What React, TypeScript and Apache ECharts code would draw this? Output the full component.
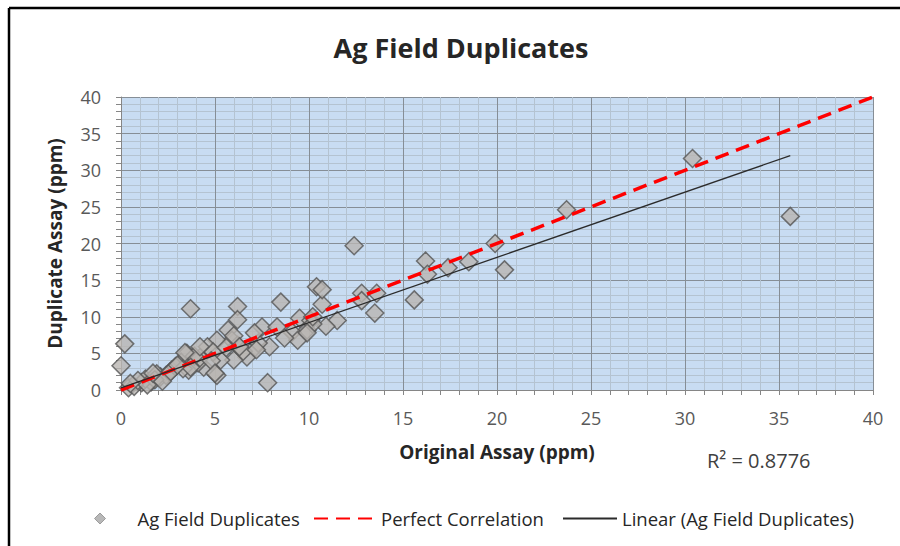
import React, { useEffect, useRef } from "react";
import * as echarts from "echarts";

const originalAssay = [
  35.6, 30.4, 23.7, 19.9, 20.4, 18.5, 17.4, 16.2, 16.3, 15.6,
  13.5, 13.6, 12.8, 12.8, 12.4, 11.5, 10.9, 10.7, 10.4, 10.7,
  9.9, 9.5, 9.1, 9.4, 8.7, 8.5, 10.1, 7.8, 6.2, 3.7,
  0.2, 0.0, 7.5, 8.3, 7.9, 7.1, 6.2, 5.7, 5.9, 5.1,
  6.2, 6.7, 6.0, 5.3, 5.1, 4.6, 4.4, 3.5, 3.6, 4.1,
  4.9, 3.2, 2.7, 2.1, 1.6, 1.1, 0.4, 0.7, 1.3, 1.9,
  2.4, 2.9, 3.3, 0.9, 1.8, 2.6, 4.2, 5.6, 7.3, 7.1,
  6.5, 4.8, 3.9, 2.2, 1.4, 0.5, 10.2, 6.0, 10.2, 7.2,
  6.3, 5.0, 3.7, 3.0, 3.4, 4.2, 1.7, 9.9,
];
const duplicateAssay = [
  23.7, 31.6, 24.6, 20.0, 16.4, 17.5, 16.7, 17.6, 15.8, 12.3,
  10.5, 13.2, 13.2, 12.2, 19.7, 9.5, 8.7, 11.7, 14.1, 13.7,
  8.2, 9.8, 7.9, 6.8, 7.1, 12.0, 9.5, 1.0, 11.4, 11.1,
  6.3, 3.3, 8.6, 8.6, 5.9, 5.7, 9.6, 8.2, 6.8, 6.8,
  6.1, 4.5, 4.1, 4.1, 2.0, 5.9, 3.1, 5.0, 2.7, 3.7,
  5.2, 3.8, 2.7, 1.8, 1.1, 1.0, 0.3, 0.5, 1.5, 2.2,
  2.0, 3.2, 2.9, 1.3, 1.4, 2.4, 4.4, 5.8, 6.4, 7.8,
  5.3, 4.0, 4.6, 1.2, 0.7, 0.9, 9.0, 7.4, 10.0, 5.5,
  5.9, 2.3, 3.1, 3.4, 5.1, 5.9, 2.3, 7.8,
];
const perfectX = [0, 40];
const perfectY = [0, 40];
const trendX = [0, 35.6];
const trendY = [0.3, 32.0];

const FONT = "'Open Sans', 'Noto Sans', sans-serif";

export default function App() {
  const ref = useRef<HTMLDivElement>(null);
  useEffect(() => {
    document.body.style.margin = "0";
    const chart = echarts.init(ref.current!, null, { renderer: "svg" });
    const axisCommon = {
      type: "value" as const,
      min: 0,
      max: 40,
      interval: 5,
      axisLine: { show: true, lineStyle: { color: "#868686", width: 1 } },
      axisTick: { show: true, length: 5, lineStyle: { color: "#868686" } },
      minorTick: { show: true, splitNumber: 5, length: 5, lineStyle: { color: "#868686" } },
      splitLine: { show: true, lineStyle: { color: "#868e96", width: 1 } },
      minorSplitLine: { show: true, lineStyle: { color: "#b4c3d1", width: 1 } },
      nameTextStyle: { fontFamily: FONT, fontSize: 19, fontWeight: "bold", color: "#262626" },
    };
    const legendText = { fontFamily: FONT, fontSize: 18.5, color: "#262626" };
    chart.setOption({
      animation: false,
      backgroundColor: "#ffffff",
      textStyle: { fontFamily: FONT },
      title: {
        text: "Ag Field Duplicates",
        left: 456,
        textAlign: "center",
        top: 29,
        textStyle: { fontFamily: FONT, fontSize: 27, fontWeight: "bold", color: "#262626" },
      },
      grid: {
        left: 121,
        right: 27,
        top: 97,
        bottom: 156,
        show: true,
        backgroundColor: "#c8dcf2",
        borderWidth: 0,
      },
      xAxis: {
        ...axisCommon,
        name: "Original Assay (ppm)",
        nameLocation: "middle",
        nameGap: 52,
        axisLabel: { fontFamily: FONT, fontSize: 18, color: "#595959", margin: 19 },
      },
      yAxis: {
        ...axisCommon,
        name: "Duplicate Assay (ppm)",
        nameLocation: "middle",
        nameGap: 57,
        axisLabel: { fontFamily: FONT, fontSize: 18, color: "#595959", margin: 20 },
      },
      legend: [
        {
          data: [{ name: "Ag Field Duplicates", icon: "diamond" }],
          left: 89,
          top: 504,
          itemWidth: 11,
          itemHeight: 11,
          itemGap: 0,
          itemStyle: { color: "#a6a6a6", borderColor: "#8c8c8c", borderWidth: 1 },
          textStyle: { ...legendText, padding: [0, 0, 0, 27] },
        },
        {
          data: ["Perfect Correlation"],
          left: 308,
          top: 504,
          itemWidth: 62,
          itemHeight: 14,
          itemStyle: { opacity: 0 },
          textStyle: legendText,
        },
        {
          data: ["Linear (Ag Field Duplicates)"],
          left: 557,
          top: 504,
          itemWidth: 54,
          itemHeight: 14,
          itemStyle: { opacity: 0 },
          textStyle: legendText,
        },
      ],
      graphic: [
        {
          type: "text",
          left: 707,
          top: 450,
          style: { text: "R² = 0.8776", fontFamily: FONT, fontSize: 20, fill: "#404040" },
        },
        {
          type: "line",
          shape: { x1: 9, y1: 8, x2: 900, y2: 8 },
          style: { stroke: "#000", lineWidth: 2.5 },
        },
        {
          type: "line",
          shape: { x1: 9, y1: 8, x2: 9, y2: 546 },
          style: { stroke: "#000", lineWidth: 2.5 },
        },
      ],
      series: [
        {
          name: "Ag Field Duplicates",
          type: "scatter",
          symbol: "diamond",
          symbolSize: [18, 18],
          data: originalAssay.map((x, i) => [x, duplicateAssay[i]]),
          itemStyle: { color: "#b9b5b1", borderColor: "#555555", borderWidth: 1.5 },
          z: 2,
        },
        {
          name: "Perfect Correlation",
          type: "line",
          data: perfectX.map((x, i) => [x, perfectY[i]]),
          symbol: "none",
          lineStyle: { color: "#ff0000", width: 3.5, type: [14, 8] },
          itemStyle: { color: "#ff0000" },
          z: 3,
        },
        {
          name: "Linear (Ag Field Duplicates)",
          type: "line",
          data: trendX.map((x, i) => [x, trendY[i]]),
          symbol: "none",
          lineStyle: { color: "#2b2b2b", width: 1.3 },
          itemStyle: { color: "#2b2b2b" },
          z: 4,
        },
      ],
    });
    return () => chart.dispose();
  }, []);
  return <div ref={ref} style={{ width: 900, height: 546, background: "#fff" }} />;
}
